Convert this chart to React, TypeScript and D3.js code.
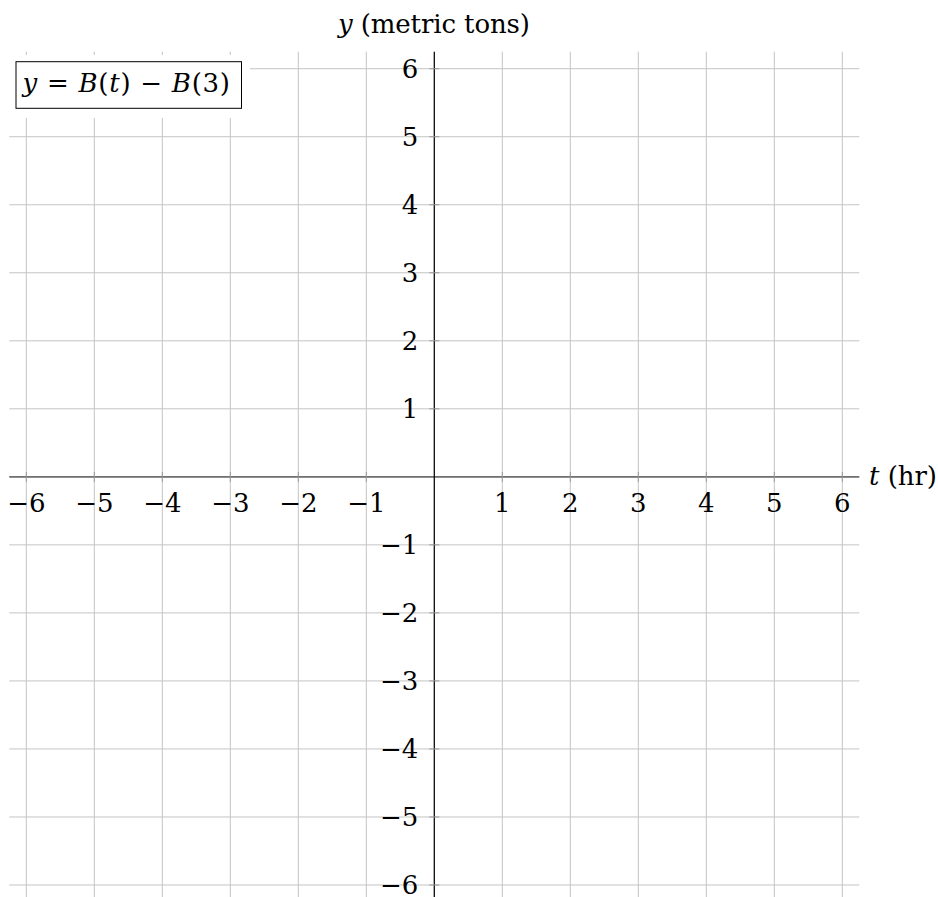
import React from "react";
import * as d3 from "d3";

const xDomain: [number, number] = [-6.25, 6.25];
const yDomain: [number, number] = [-6.25, 6.25];
const gridValues = [-6, -5, -4, -3, -2, -1, 0, 1, 2, 3, 4, 5, 6];
const xTickLabels = [-6, -5, -4, -3, -2, -1, 1, 2, 3, 4, 5, 6];
const yTickLabels = [-6, -5, -4, -3, -2, -1, 1, 2, 3, 4, 5, 6];
const xAxisTitle = "(hr)";
const yAxisTitle = "(metric tons)";

const W = 938;
const H = 897;
const FONT = "'DejaVu Serif', 'Liberation Serif', serif";
const fmt = (v: number) => (v < 0 ? "\u2212" + Math.abs(v) : String(v));

export default function App() {
  const x = d3.scaleLinear().domain(xDomain).range([9.3, 859.3]);
  const y = d3.scaleLinear().domain(yDomain).range([902, 51.7]);
  const x0 = x(0);
  const y0 = y(0);
  const gridColor = "#c4c4c4";
  const fs = 26;

  return (
    <svg
      width={W}
      height={H}
      style={{ position: "absolute", left: 0, top: 0, background: "#fff" }}
      fontFamily={FONT}
    >
      <rect x={0} y={0} width={W} height={H} fill="#fff" />
      {/* grid */}
      <g stroke={gridColor} strokeWidth={1}>
        {gridValues.map((v) => (
          <line key={"gx" + v} x1={x(v)} x2={x(v)} y1={y(yDomain[1])} y2={y(yDomain[0])} />
        ))}
        {gridValues.map((v) => (
          <line key={"gy" + v} x1={x(xDomain[0])} x2={x(xDomain[1])} y1={y(v)} y2={y(v)} />
        ))}
      </g>
      {/* x axis */}
      <line x1={x(xDomain[0])} x2={x(xDomain[1])} y1={y0} y2={y0} stroke="#707070" strokeWidth={1.8} />
      {/* y axis */}
      <line x1={x0} x2={x0} y1={y(yDomain[1])} y2={y(yDomain[0])} stroke="#000" strokeWidth={1.2} />
      {/* ticks */}
      <g stroke="#999" strokeWidth={1}>
        {xTickLabels.map((v) => (
          <line key={"tx" + v} x1={x(v)} x2={x(v)} y1={y0 - 5} y2={y0 + 5} />
        ))}
        {yTickLabels.map((v) => (
          <line key={"ty" + v} x1={x0 - 5} x2={x0 + 5} y1={y(v)} y2={y(v)} />
        ))}
      </g>
      {/* tick labels */}
      <g fontSize={fs} fill="#000">
        {xTickLabels.map((v) => (
          <text key={"lx" + v} x={x(v)} y={y0 + 35} textAnchor="middle">
            {fmt(v)}
          </text>
        ))}
        {yTickLabels.map((v) => (
          <text key={"ly" + v} x={x0 - 16} y={y(v) + 9.5} textAnchor="end">
            {fmt(v)}
          </text>
        ))}
      </g>
      {/* axis titles */}
      <text x={338} y={33} textAnchor="start" fontSize={fs} textLength={192} lengthAdjust="spacing">
        <tspan fontStyle="italic">y</tspan> {yAxisTitle}
      </text>
      <text x={869} y={485} textAnchor="start" fontSize={fs} textLength={68} lengthAdjust="spacing">
        <tspan fontStyle="italic">t</tspan> {xAxisTitle}
      </text>
      {/* legend box */}
      <rect x={9} y={55} width={241} height={63} fill="#fff" />
      <rect x={16} y={61.7} width={225.5} height={46.6} fill="#fff" stroke="#000" strokeWidth={1} />
      <text x={22.5} y={92.3} textAnchor="start" fontSize={fs} textLength={207.5} lengthAdjust="spacing">
        <tspan fontStyle="italic">y</tspan>
        {" = "}
        <tspan fontStyle="italic">B</tspan>(<tspan fontStyle="italic">t</tspan>)
        {" \u2212 "}
        <tspan fontStyle="italic">B</tspan>(3)
      </text>
    </svg>
  );
}
